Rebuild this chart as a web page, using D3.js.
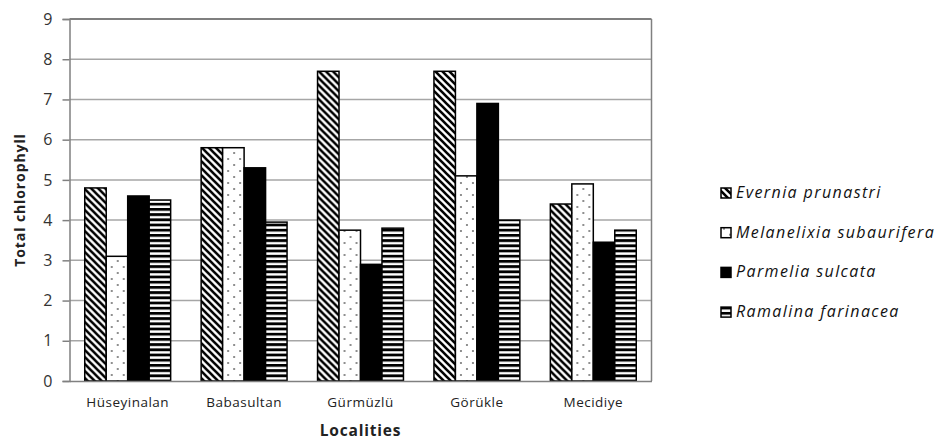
<!DOCTYPE html>
<html><head><meta charset="utf-8">
<script src="https://cdn.jsdelivr.net/npm/d3@7"></script>
<style>body{margin:0;background:#fff;} svg{display:block;}</style>
</head><body>
<svg id="chart" width="945" height="443"></svg>
<script>
const categories = ["Hüseyinalan", "Babasultan", "Gürmüzlü", "Görükle", "Mecidiye"];
const seriesNames = ["Evernia prunastri", "Melanelixia subaurifera", "Parmelia sulcata", "Ramalina farinacea"];
const everniaValues = [4.8, 5.8, 7.7, 7.7, 4.4];
const melanelixiaValues = [3.1, 5.8, 3.75, 5.1, 4.9];
const parmeliaValues = [4.6, 5.3, 2.9, 6.9, 3.45];
const ramalinaValues = [4.5, 3.95, 3.8, 4.0, 3.75];
const yTicks = [0, 1, 2, 3, 4, 5, 6, 7, 8, 9];
const seriesValues = [everniaValues, melanelixiaValues, parmeliaValues, ramalinaValues];
const fills = ["url(#pDiag)", "url(#pDots)", "#000", "url(#pHoriz)"];

const svg = d3.select("#chart");
const defs = svg.append("defs");
// diagonal pattern
const pd = defs.append("pattern").attr("id","pDiag").attr("patternUnits","userSpaceOnUse")
  .attr("width",7).attr("height",7);
pd.append("rect").attr("width",7).attr("height",7).attr("fill","#fff");
pd.append("path").attr("d","M-2,-2 L9,9 M-9,-2 L2,9 M5,-2 L16,9").attr("stroke","#000").attr("stroke-width",2.6);
// dots
const pt = defs.append("pattern").attr("id","pDots").attr("patternUnits","userSpaceOnUse")
  .attr("width",12).attr("height",12);
pt.append("rect").attr("width",12).attr("height",12).attr("fill","#fff");
pt.append("circle").attr("cx",3).attr("cy",3).attr("r",0.8).attr("fill","#000");
pt.append("circle").attr("cx",9).attr("cy",9).attr("r",0.8).attr("fill","#000");
// horizontal
const ph = defs.append("pattern").attr("id","pHoriz").attr("patternUnits","userSpaceOnUse")
  .attr("width",6).attr("height",5.2);
ph.append("rect").attr("width",6).attr("height",5.2).attr("fill","#fff");
ph.append("rect").attr("y",0).attr("width",6).attr("height",2.8).attr("fill","#000");

const m = {left: 69.5, right: 651.5, top: 19, bottom: 381};
const x0 = d3.scaleBand().domain(categories).range([m.left, m.right]).paddingInner(0.262).paddingOuter(0.131);
const x1 = d3.scaleBand().domain(d3.range(4)).range([0, x0.bandwidth()]);
const y = d3.scaleLinear().domain([0, 9]).range([m.bottom, m.top]);

// gridlines
svg.append("g").selectAll("line").data(yTicks.slice(1)).join("line")
  .attr("x1", m.left).attr("x2", m.right)
  .attr("y1", d => y(d)).attr("y2", d => y(d))
  .attr("stroke", d => d === 9 ? "#555" : "#a6a6a6").attr("stroke-width", 1.5);
// right border
svg.append("line").attr("x1", m.right).attr("x2", m.right).attr("y1", m.top).attr("y2", m.bottom)
  .attr("stroke","#808080").attr("stroke-width",1.5);

// bars
const groups = svg.append("g").selectAll("g").data(categories).join("g")
  .attr("transform", d => `translate(${x0(d)},0)`);
groups.selectAll("rect").data((d, i) => seriesValues.map((s, k) => ({k, v: s[i]}))).join("rect")
  .attr("x", d => x1(d.k)).attr("width", x1.bandwidth())
  .attr("y", d => y(d.v)).attr("height", d => y(0) - y(d.v))
  .attr("fill", d => fills[d.k]).attr("stroke", "#000").attr("stroke-width", 1.5);

// y axis
const yAxis = svg.append("g").attr("transform", `translate(${m.left},0)`)
  .call(d3.axisLeft(y).tickValues(yTicks).tickSize(7).tickPadding(10));
yAxis.select(".domain").attr("stroke","#808080").attr("stroke-width",1.5);
yAxis.selectAll(".tick line").attr("stroke","#808080").attr("stroke-width",1.5);
yAxis.selectAll("text").attr("font-family","'Open Sans', sans-serif").attr("font-size",16).attr("fill","#333");

// x axis
const xAxis = svg.append("g").attr("transform", `translate(0,${m.bottom})`)
  .call(d3.axisBottom(x0).tickSize(0).tickPadding(16));
xAxis.select(".domain").attr("stroke","#808080").attr("stroke-width",1.5);
xAxis.selectAll("text").attr("font-family","'Open Sans', sans-serif").attr("font-size",13.5)
  .attr("letter-spacing",0.5).attr("fill","#222");

// titles
svg.append("text").attr("x", (m.left + m.right)/2).attr("y", 436).attr("text-anchor","middle")
  .attr("font-family","'Open Sans', sans-serif").attr("font-weight","bold").attr("font-size",15.5)
  .attr("letter-spacing",0.8).attr("fill","#222")
  .text("Localities");
svg.append("text").attr("transform", `translate(25,200) rotate(-90)`).attr("text-anchor","middle")
  .attr("font-family","'Open Sans', sans-serif").attr("font-weight","bold").attr("font-size",14)
  .attr("letter-spacing",0.9).attr("fill","#222")
  .text("Total chlorophyll");

// legend
const lg = svg.append("g").selectAll("g").data(seriesNames).join("g")
  .attr("transform", (d, i) => `translate(721,${198 + i*39.7})`);
lg.append("rect").attr("x",0).attr("y",-10).attr("width",10).attr("height",10)
  .attr("fill", (d, i) => fills[i]).attr("stroke","#000").attr("stroke-width",1.5);
lg.append("text").attr("x",15).attr("y",0)
  .attr("font-family","'Open Sans', sans-serif").attr("font-style","italic").attr("font-size",16)
  .attr("letter-spacing",1.4).attr("fill","#111")
  .text(d => d);
</script>
</body></html>
